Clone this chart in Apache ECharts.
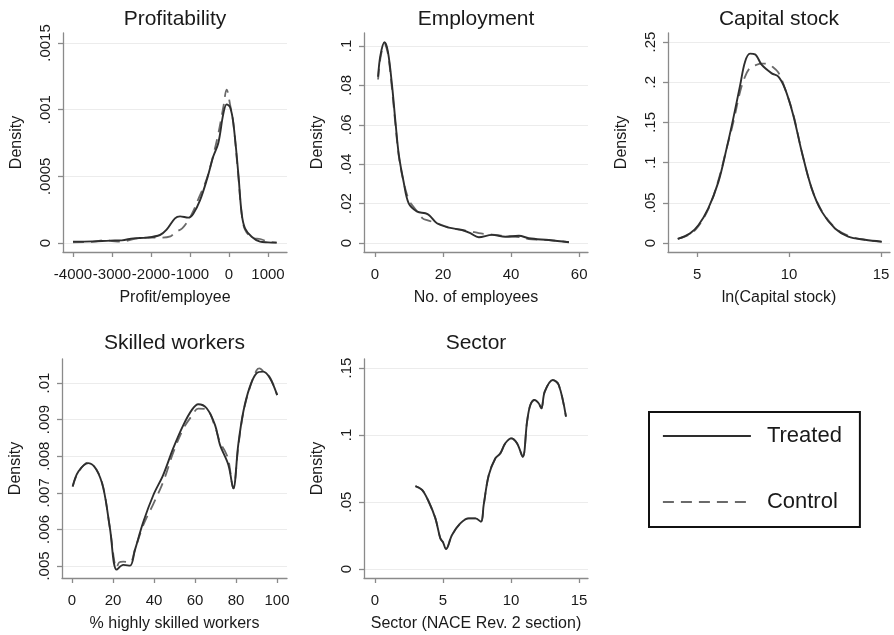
<!DOCTYPE html>
<html><head><meta charset="utf-8">
<script src="https://cdn.jsdelivr.net/npm/echarts@6/dist/echarts.min.js"></script>
<style>html,body{margin:0;padding:0;background:#fff}#c{width:894px;height:635px}</style>
</head><body><div id="c"></div><script>
// ---------- Profitability ----------
const profitTreatedX = [-4000,-3500,-3050,-2750,-2450,-2100,-1770,-1600,-1385,-1256,-1043,-915,-744,-573,-402,-274,-145,-60,26,111,239,325,410,581,795,1000,1222];
const profitTreatedY = [0.00001,0.000012,0.000018,0.00002,0.000035,0.00004,0.00006,0.0001,0.000185,0.0002,0.00019,0.00022,0.00032,0.00047,0.00065,0.00075,0.00097,0.00104,0.00102,0.0009,0.00052,0.00022,0.00011,0.000047,0.00001,0.000005,0.000003];
const profitControlX = [-4000,-3500,-3200,-3000,-2750,-2450,-2100,-1770,-1500,-1385,-1200,-1043,-900,-800,-573,-402,-274,-145,-60,26,111,239,325,410,600,800,1000,1222];
const profitControlY = [0.000005,0.000008,0.00002,0.000015,0.00001,0.00003,0.00004,0.00004,0.00005,0.00008,0.00011,0.00017,0.00025,0.00032,0.00048,0.00066,0.00082,0.00102,0.00115,0.00104,0.0009,0.0005,0.00022,0.0001,0.00004,0.00003,0.00001,0.000003];
const profitXTicks = [-4000,-3000,-2000,-1000,0,1000];
const profitXLabels = ['-4000','-3000','-2000','-1000','0','1000'];
const profitYTicks = [0,0.0005,0.001,0.0015];
const profitYLabels = ['0','.0005','.001','.0015'];

// ---------- Employment ----------
const emplTreatedX = [0.9,1.6,2.8,3.8,5,6,7,8.4,9.9,12.4,14.8,16,18.2,21.7,25.6,28,30.5,34.4,38.3,42.3,45.2,51.1,57];
const emplTreatedY = [0.0844,0.0954,0.1019,0.097,0.080,0.0616,0.0447,0.0311,0.0201,0.0159,0.0151,0.0140,0.0100,0.0078,0.0066,0.0050,0.0029,0.0041,0.0032,0.0037,0.0024,0.0015,0.0004];
const emplControlX = [0.9,1.6,2.8,3.8,5,6,7,8.4,9.9,11,12.4,14,15.5,18.2,21.7,25.6,28,30.5,33,36,38.3,42.3,45.2,48,51.1,57];
const emplControlY = [0.083,0.094,0.101,0.096,0.078,0.060,0.044,0.031,0.022,0.019,0.016,0.0125,0.0115,0.0100,0.0080,0.0065,0.0060,0.0050,0.0045,0.0040,0.0035,0.0030,0.0020,0.0017,0.0015,0.0004];
const emplXTicks = [0,20,40,60];
const emplXLabels = ['0','20','40','60'];
const emplYTicks = [0,0.02,0.04,0.06,0.08,0.1];
const emplYLabels = ['0','.02','.04','.06','.08','.1'];

// ---------- Capital stock ----------
const capTreatedX = [3.95,4.62,5.07,5.61,6.16,6.61,6.97,7.34,7.61,7.88,8.15,8.52,9.06,9.42,9.78,10.23,10.69,11.23,11.78,12.5,13.22,14.13,15.04];
const capTreatedY = [0.005,0.012,0.022,0.043,0.076,0.118,0.155,0.196,0.2255,0.2355,0.2347,0.2214,0.211,0.207,0.192,0.159,0.1136,0.068,0.039,0.018,0.008,0.004,0.0017];
const capControlX = [3.95,4.62,5.07,5.61,6.16,6.61,6.97,7.34,7.61,7.88,8.15,8.52,8.8,9.06,9.42,9.78,10.23,10.69,11.23,11.78,12.5,13.22,14.13,15.04];
const capControlY = [0.005,0.011,0.021,0.042,0.078,0.118,0.150,0.188,0.207,0.218,0.221,0.223,0.223,0.220,0.212,0.192,0.160,0.114,0.068,0.040,0.019,0.009,0.004,0.0015];
const capXTicks = [5,10,15];
const capXLabels = ['5','10','15'];
const capYTicks = [0,0.05,0.1,0.15,0.2,0.25];
const capYLabels = ['0','.05','.1','.15','.2','.25'];

// ---------- Skilled workers ----------
const skillTreatedX = [0.3,3.1,8,12,15.3,18.5,21.8,25,28.3,30.7,34.8,39.7,44.5,49.4,54.3,58.4,61.6,65.7,69.8,72.2,76.3,78.7,81.1,83.6,86.8,90.1,93.3,96.6,100.1];
const skillTreatedY = [0.00717,0.00758,0.00781,0.00762,0.00712,0.00603,0.00490,0.00503,0.00501,0.00544,0.00621,0.00694,0.00749,0.00822,0.00885,0.00926,0.00942,0.00931,0.00885,0.00831,0.00776,0.00712,0.00831,0.00922,0.0099,0.01027,0.01031,0.01013,0.00967];
const skillControlX = [0.3,3.1,8,12,15.3,18.5,21.8,23,25,28.3,30.7,34.8,39.7,44.5,49.4,54.3,58.4,61.6,65.7,69.8,72.2,74.5,76.3,78.7,81.1,83.6,86.8,90.1,91.5,93.3,96.6,100.1];
const skillControlY = [0.00717,0.00757,0.00783,0.00763,0.00713,0.00603,0.00495,0.0051,0.00512,0.0051,0.00545,0.00612,0.0067,0.0073,0.0081,0.00875,0.0091,0.0093,0.00928,0.0088,0.00838,0.00815,0.0079,0.00712,0.00825,0.0092,0.00988,0.01035,0.0104,0.01032,0.01015,0.00967];
const skillXTicks = [0,20,40,60,80,100];
const skillXLabels = ['0','20','40','60','80','100'];
const skillYTicks = [0.005,0.006,0.007,0.008,0.009,0.01];
const skillYLabels = ['.005','.006','.007','.008','.009','.01'];

// ---------- Sector ----------
const sectorTreatedX = [2.97,3.46,3.95,4.44,4.8,5.0,5.22,5.66,6.27,6.89,7.38,7.79,7.99,8.36,8.85,9.21,9.58,10.02,10.44,10.86,11.18,11.42,11.74,12.03,12.23,12.48,13.07,13.51,14.04];
const sectorTreatedY = [0.0619,0.059,0.0502,0.0378,0.0229,0.020,0.0149,0.0254,0.0341,0.0378,0.0378,0.0353,0.0478,0.070,0.0826,0.0863,0.0938,0.0975,0.0938,0.0838,0.1099,0.1224,0.1261,0.1237,0.1199,0.1323,0.141,0.1373,0.1137];
const sectorControlX = sectorTreatedX.slice();
const sectorControlY = [0.0619,0.059,0.0502,0.0378,0.0229,0.020,0.0149,0.0254,0.0341,0.0378,0.0378,0.0353,0.0478,0.070,0.0826,0.0863,0.0938,0.0975,0.0938,0.0838,0.1099,0.1224,0.1261,0.1237,0.1199,0.1323,0.141,0.1373,0.1137];
const sectorXTicks = [0,5,10,15];
const sectorXLabels = ['0','5','10','15'];
const sectorYTicks = [0,0.05,0.1,0.15];
const sectorYLabels = ['0','.05','.1','.15'];

const seriesNames = ['Treated','Control'];
const titles = ['Profitability','Employment','Capital stock','Skilled workers','Sector'];
const xNames = ['Profit/employee','No. of employees','ln(Capital stock)','% highly skilled workers','Sector (NACE Rev. 2 section)'];
const yName = 'Density';

const zip = (xs, ys) => xs.map((x, i) => [x, ys[i]]);

const panels = [
  {grid:{left:63,top:33,width:224,height:219}, xr:[-4256,1487], yr:[-0.0000675,0.001575],
   xt:profitXTicks, xl:profitXLabels, yt:profitYTicks, yl:profitYLabels,
   t:zip(profitTreatedX,profitTreatedY), c:zip(profitControlX,profitControlY)},
  {grid:{left:364,top:33,width:224,height:219}, xr:[-3.24,62.6], yr:[-0.00457,0.1066],
   xt:emplXTicks, xl:emplXLabels, yt:emplYTicks, yl:emplYLabels,
   t:zip(emplTreatedX,emplTreatedY), c:zip(emplControlX,emplControlY)},
  {grid:{left:668,top:33,width:222,height:219}, xr:[3.42,15.49], yr:[-0.0112,0.2612],
   xt:capXTicks, xl:capXLabels, yt:capYTicks, yl:capYLabels,
   t:zip(capTreatedX,capTreatedY), c:zip(capControlX,capControlY)},
  {grid:{left:62,top:359,width:225,height:219}, xr:[-4.9,104.9], yr:[0.004672,0.010656],
   xt:skillXTicks, xl:skillXLabels, yt:skillYTicks, yl:skillYLabels,
   t:zip(skillTreatedX,skillTreatedY), c:zip(skillControlX,skillControlY)},
  {grid:{left:364,top:359,width:224,height:219}, xr:[-0.81,15.66], yr:[-0.0067,0.1567],
   xt:sectorXTicks, xl:sectorXLabels, yt:sectorYTicks, yl:sectorYLabels,
   t:zip(sectorTreatedX,sectorTreatedY), c:zip(sectorControlX,sectorControlY)}
];

const FONT = '"Liberation Sans", Arial, sans-serif';
const TXT = '#1a1a1a';
const AXC = '#8a8a8a';
const DASH = [11,7];

function labelFor(ticks, labels) {
  return v => {
    let best = 0, bd = Infinity;
    ticks.forEach((t, i) => { const d = Math.abs(t - v); if (d < bd) { bd = d; best = i; } });
    return labels[best];
  };
}

const grids = [], xAxes = [], yAxes = [], series = [], graphics = [];
panels.forEach((p, i) => {
  grids.push(Object.assign({containLabel:false}, p.grid));
  xAxes.push({
    type:'value', gridIndex:i, min:p.xr[0], max:p.xr[1],
    name:xNames[i], nameLocation:'middle', nameGap:38,
    nameTextStyle:{fontFamily:FONT, fontSize:16, color:TXT},
    axisLine:{show:true, onZero:false, lineStyle:{color:AXC, width:1.3}},
    axisTick:{show:true, length:5, customValues:p.xt, lineStyle:{color:AXC, width:1.3}},
    axisLabel:{customValues:p.xt, formatter:labelFor(p.xt, p.xl), fontFamily:FONT, fontSize:15, color:TXT, margin:15},
    splitLine:{show:false}
  });
  yAxes.push({
    type:'value', gridIndex:i, min:p.yr[0], max:p.yr[1],
    name:yName, nameLocation:'middle', nameGap:38, nameRotate:90,
    nameTextStyle:{fontFamily:FONT, fontSize:16, color:TXT},
    axisLine:{show:true, onZero:false, lineStyle:{color:AXC, width:1.3}},
    axisTick:{show:true, length:5, customValues:p.yt, lineStyle:{color:AXC, width:1.3}},
    axisLabel:{customValues:p.yt, formatter:labelFor(p.yt, p.yl), rotate:90, fontFamily:FONT, fontSize:15, color:TXT, margin:10},
    splitLine:{show:true, lineStyle:{color:'#ececec', width:1.2}}
  });
  series.push({
    name:seriesNames[1], type:'line', xAxisIndex:i, yAxisIndex:i, data:p.c,
    symbol:'none', smooth:0.35, silent:true,
    lineStyle:{color:'#6a6a6a', width:1.8, type:DASH}, itemStyle:{color:'#6a6a6a'}
  });
  series.push({
    name:seriesNames[0], type:'line', xAxisIndex:i, yAxisIndex:i, data:p.t,
    symbol:'none', smooth:0.35, silent:true,
    lineStyle:{color:'#2e2e2e', width:1.9, type:'solid'}, itemStyle:{color:'#2e2e2e'}
  });
  const row = i < 3 ? 0 : 1;
  graphics.push({
    type:'text', x:p.grid.left + p.grid.width/2, y: row === 0 ? 19 : 343,
    style:{text:titles[i], fontFamily:FONT, fontSize:21, fill:TXT, textAlign:'center', textVerticalAlign:'middle'}
  });
});

const chart = echarts.init(document.getElementById('c'), null, {renderer:'canvas'});
chart.setOption({
  backgroundColor:'#ffffff',
  animation:false,
  grid:grids, xAxis:xAxes, yAxis:yAxes, series:series,
  graphic:graphics,
  legend:{
    data:seriesNames, orient:'vertical', left:649, top:412,
    itemWidth:88, itemHeight:14, itemGap:44,
    padding:[13,18,14,13],
    borderColor:'#111', borderWidth:2, backgroundColor:'#fff',
    itemStyle:{opacity:0, borderWidth:0},
    lineStyle:{width:1.8},
    textStyle:{fontFamily:FONT, fontSize:22, color:TXT, padding:[0,0,0,11]},
    selectedMode:false
  }
});
</script></body></html>
